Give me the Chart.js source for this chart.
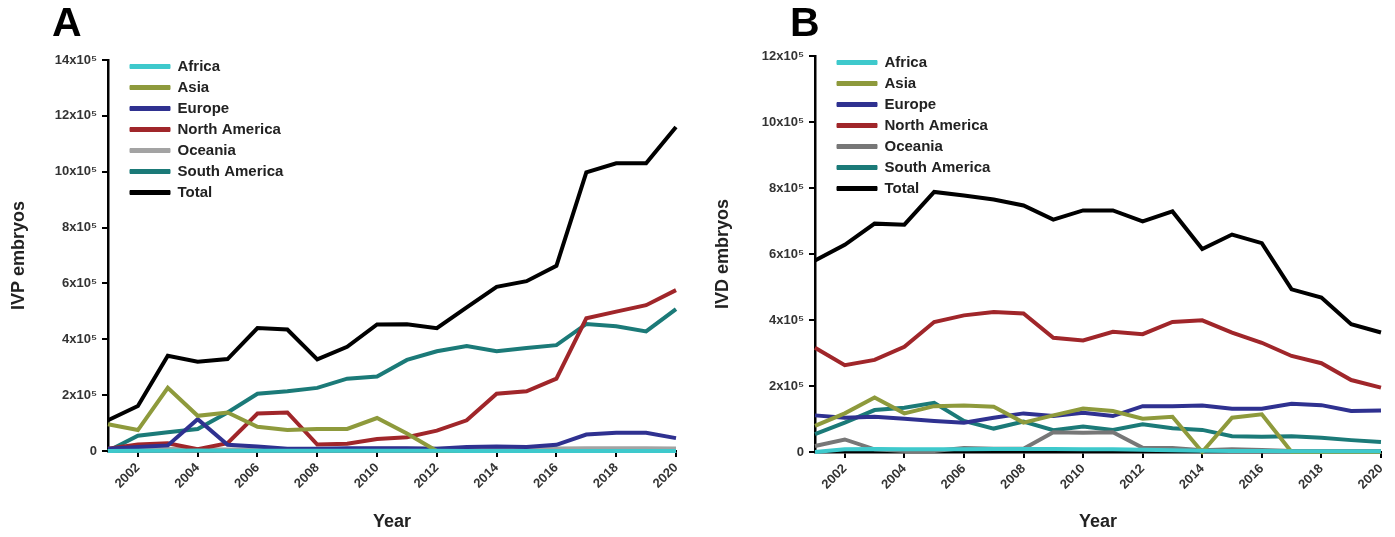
<!DOCTYPE html>
<html>
<head>
<meta charset="utf-8">
<script src="https://cdn.jsdelivr.net/npm/chart.js@4/dist/chart.umd.min.js"></script>
<style>
  body { margin: 0; background: #fff; width: 1395px; height: 537px; position: relative; overflow: hidden; }
  .panel { position: absolute; top: 0; height: 537px; }
  .letter { position: absolute; top: 2px; font: bold 41px "Liberation Sans", Arial, sans-serif; line-height: 40px; color: #000; }
</style>
</head>
<body>
<div class="panel" style="left:0;width:697px"><canvas id="chartA" width="697" height="537"></canvas></div>
<div class="panel" style="left:697px;width:698px"><canvas id="chartB" width="698" height="537"></canvas></div>
<div class="letter" style="left:52px">A</div>
<div class="letter" style="left:790px">B</div>
<script>
const years = [2001, 2002, 2003, 2004, 2005, 2006, 2007, 2008, 2009, 2010,
               2011, 2012, 2013, 2014, 2015, 2016, 2017, 2018, 2019, 2020];
const yearTicks = [2002, 2004, 2006, 2008, 2010, 2012, 2014, 2016, 2018, 2020];
const regions = ["Africa", "Asia", "Europe", "North America", "Oceania", "South America", "Total"];

// A: IVP embryos
const ivpAfrica   = [0, 1000, 1000, 2000, 1000, 1000, 1000, 1000, 1000, 1000, 1000, 1000, 0, 0, 0, 0, 0, 0, 0, 0];
const ivpAsia     = [96000, 75000, 226000, 126000, 138000, 87000, 75000, 79000, 79000, 118000, 63000, 0, 0, 0, 0, 0, 0, 0, 0, 0];
const ivpEurope   = [8000, 14000, 20000, 114000, 22000, 16000, 8000, 8000, 10000, 10000, 10000, 8000, 14000, 16000, 14000, 22000, 59000, 65000, 65000, 46000];
const ivpNorthAm  = [8000, 23000, 28000, 6000, 28000, 134000, 138000, 23000, 26000, 43000, 49000, 73000, 110000, 205000, 214000, 259000, 475000, 499000, 522000, 576000];
const ivpOceania  = [5000, 6000, 8000, 6000, 5000, 5000, 5000, 6000, 7000, 8000, 8000, 8000, 9000, 9000, 9000, 9000, 10000, 10000, 10000, 9000];
const ivpSouthAm  = [0, 55000, 67000, 79000, 138000, 205000, 214000, 226000, 259000, 267000, 326000, 357000, 376000, 357000, 369000, 379000, 455000, 447000, 428000, 508000];
const ivpTotal    = [110000, 161000, 341000, 320000, 329000, 440000, 435000, 328000, 373000, 453000, 454000, 440000, 514000, 588000, 608000, 663000, 998000, 1030000, 1030000, 1160000];

// B: IVD embryos
const ivdAfrica   = [0, 8000, 9000, 8000, 8000, 8000, 9000, 9000, 9000, 8000, 8000, 7000, 5000, 4000, 3000, 3000, 2000, 2000, 2000, 2000];
const ivdAsia     = [79000, 117000, 165000, 117000, 139000, 141000, 137000, 89000, 111000, 132000, 124000, 101000, 107000, 0, 104000, 114000, 0, 0, 0, 0];
const ivdEurope   = [111000, 104000, 107000, 101000, 94000, 89000, 104000, 117000, 109000, 119000, 109000, 139000, 139000, 141000, 131000, 131000, 146000, 142000, 124000, 126000];
const ivdNorthAm  = [316000, 263000, 279000, 319000, 394000, 414000, 424000, 420000, 346000, 338000, 364000, 357000, 394000, 399000, 362000, 331000, 291000, 269000, 218000, 195000];
const ivdOceania  = [18000, 38000, 8000, 3000, 3000, 12000, 10000, 10000, 60000, 58000, 60000, 13000, 12000, 5000, 8000, 6000, 3000, 3000, 3000, 3000];
const ivdSouthAm  = [54000, 89000, 127000, 134000, 149000, 94000, 71000, 92000, 66000, 77000, 67000, 84000, 72000, 67000, 48000, 46000, 48000, 43000, 36000, 30000];
const ivdTotal    = [580000, 628000, 692000, 689000, 788000, 777000, 765000, 747000, 704000, 732000, 732000, 699000, 729000, 615000, 659000, 633000, 493000, 468000, 387000, 362000];

const FONT = "'Liberation Sans', Arial, sans-serif";

// legend sits inside the plot, near the top-left corner
const legendNudge = {
  id: "legendNudge",
  afterLayout(chart) {
    const lg = chart.legend;
    if (!lg) return;
    lg.left = chart.chartArea.left + 16;
    lg.top = chart.chartArea.top - 7;
  }
};

function buildChart(canvasId, series, colors, yMax, yTitle, area) {
  const datasets = series.map((vals, i) => ({
    label: regions[i],
    data: vals.map((v, k) => ({ x: years[k], y: v })),
    borderColor: colors[i],
    backgroundColor: colors[i],
    borderWidth: 4,
    pointRadius: 0,
    tension: 0,
    fill: false,
    clip: false
  }));

  return new Chart(document.getElementById(canvasId), {
    type: "line",
    data: { datasets },
    plugins: [legendNudge],
    options: {
      responsive: false,
      animation: false,
      devicePixelRatio: 1,
      layout: { padding: { top: area.top, right: area.right, left: 0, bottom: 0 } },
      plugins: {
        tooltip: { enabled: false },
        legend: {
          position: "chartArea",
          align: "start",
          labels: {
            boxWidth: 40,
            boxHeight: 4,
            padding: 6,
            color: "#222",
            font: { family: FONT, size: 15, weight: "bold" },
            generateLabels: chart =>
              Chart.defaults.plugins.legend.labels.generateLabels(chart)
                .map(l => ({ ...l, lineWidth: 1 }))
          }
        }
      },
      scales: {
        x: {
          type: "linear",
          min: years[0],
          max: years[years.length - 1],
          afterBuildTicks: s => { s.ticks = yearTicks.map(v => ({ value: v })); },
          afterFit: s => { s.height = area.xh; },
          border: { color: "#000", width: 2.5 },
          grid: { drawOnChartArea: false, color: "#000", lineWidth: 2, tickLength: 6 },
          ticks: {
            minRotation: 45,
            maxRotation: 45,
            color: "#333",
            font: { family: FONT, size: 13, weight: "bold" },
            callback: v => String(v)
          },
          title: {
            display: true,
            text: "Year",
            color: "#222",
            font: { family: FONT, size: 18, weight: "bold" }
          }
        },
        y: {
          min: 0,
          max: yMax,
          afterFit: s => { s.width = area.yw; },
          border: { color: "#000", width: 2.5 },
          grid: { drawOnChartArea: false, color: "#000", lineWidth: 2, tickLength: 6 },
          ticks: {
            stepSize: 200000,
            padding: 5,
            color: "#333",
            font: { family: FONT, size: 13, weight: "bold" },
            callback: v => v === 0 ? "0" : (v / 100000) + "x10\u2075"
          },
          title: {
            display: true,
            text: yTitle,
            color: "#222",
            padding: { top: area.tp, bottom: 4 },
            font: { family: FONT, size: 18, weight: "bold" }
          }
        }
      }
    }
  });
}

buildChart("chartA",
  [ivpAfrica, ivpAsia, ivpEurope, ivpNorthAm, ivpOceania, ivpSouthAm, ivpTotal],
  ["#3ec9cc", "#8e9a3c", "#2f3190", "#a0262a", "#a3a3a3", "#1b7a78", "#000000"],
  1400000, "IVP embryos",
  { top: 60, right: 21, yw: 108, xh: 86, tp: 8 });

buildChart("chartB",
  [ivdAfrica, ivdAsia, ivdEurope, ivdNorthAm, ivdOceania, ivdSouthAm, ivdTotal],
  ["#3ec9cc", "#8e9a3c", "#2f3190", "#a0262a", "#777777", "#1b7a78", "#000000"],
  1200000, "IVD embryos",
  { top: 56, right: 12, yw: 118, xh: 85, tp: 15 });
</script>
</body>
</html>
